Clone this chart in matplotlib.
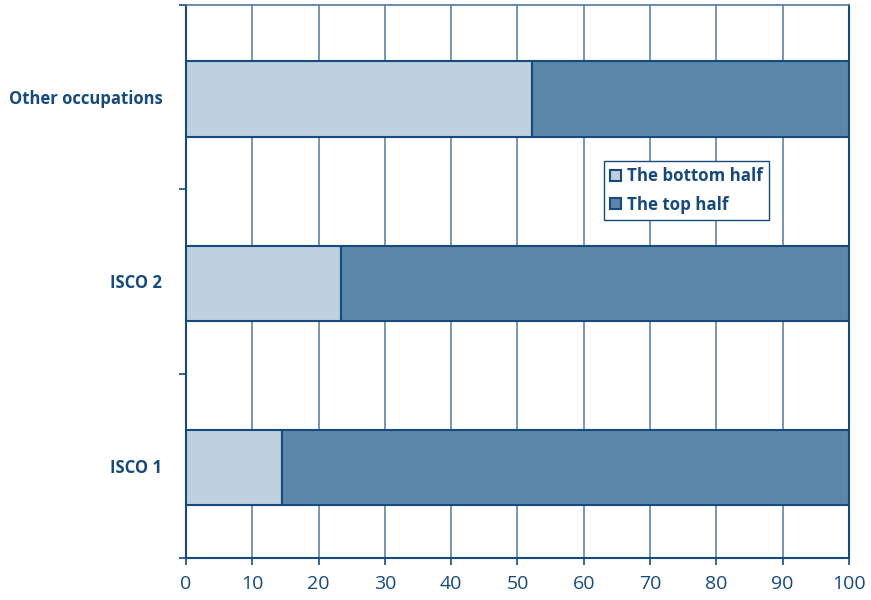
import matplotlib.pyplot as plt
import numpy as np

categories = ['ISCO 1', 'ISCO 2', 'Other occupations']
bottom_half = [14.5, 23.4, 52.2]
top_half = [85.5, 76.6, 47.8]
series_labels = ['The bottom half', 'The top half']
x_ticks = list(range(0, 101, 10))

navy = '#174a7c'
light = '#bfd1df'
dark = '#5b87a9'
grid_col = '#4f7aa0'

plt.rcParams['font.family'] = ['Open Sans', 'DejaVu Sans']

fig = plt.figure(figsize=(8.71, 6), dpi=100)
ax = fig.add_axes([0.2135, 0.07, 0.7612, 0.9217])

y = np.arange(len(categories))
ax.barh(y - 0.01, bottom_half, height=0.41, color=light, edgecolor=navy, linewidth=1.5,
        label=series_labels[0], zorder=3)
ax.barh(y - 0.01, top_half, left=bottom_half, height=0.41, color=dark, edgecolor=navy,
        linewidth=1.5, label=series_labels[1], zorder=3)

ax.set_xlim(0, 100)
ax.set_ylim(-0.5, len(categories) - 0.5)
ax.set_xticks(x_ticks)
ax.set_xticklabels([str(t) for t in x_ticks], fontsize=14, color=navy)
ax.xaxis.grid(True, color=grid_col, linewidth=1.1, zorder=0)
ax.set_axisbelow(True)

# category labels centered, boundary ticks on the left
ax.set_yticks(y)
ax.set_yticklabels(categories, fontsize=12, fontweight='bold', color=navy)
ax.tick_params(axis='y', which='major', length=0, pad=17)
ax.set_yticks(np.arange(-0.5, len(categories)), minor=True)
ax.tick_params(axis='y', which='minor', length=5, width=1.2, color=navy, direction='out')
ax.tick_params(axis='x', length=5, width=1.2, color=navy, direction='out', pad=7)

for side in ['left', 'bottom']:
    ax.spines[side].set_color(navy)
    ax.spines[side].set_linewidth(1.5)
ax.spines['top'].set_color(grid_col)
ax.spines['top'].set_linewidth(1.2)
ax.spines['right'].set_color(navy)
ax.spines['right'].set_linewidth(1.5)

leg = ax.legend(loc='upper left', bbox_to_anchor=(0.63, 0.718), frameon=True,
                fancybox=False, edgecolor=navy, framealpha=1, fontsize=12.2,
                handlelength=0.65, handleheight=0.65, handletextpad=0.35,
                borderpad=0.38, labelspacing=0.6, borderaxespad=0)
leg.get_frame().set_linewidth(1.0)
for t in leg.get_texts():
    t.set_color(navy)
    t.set_fontweight('bold')

fig.savefig('out.png', dpi=100)
